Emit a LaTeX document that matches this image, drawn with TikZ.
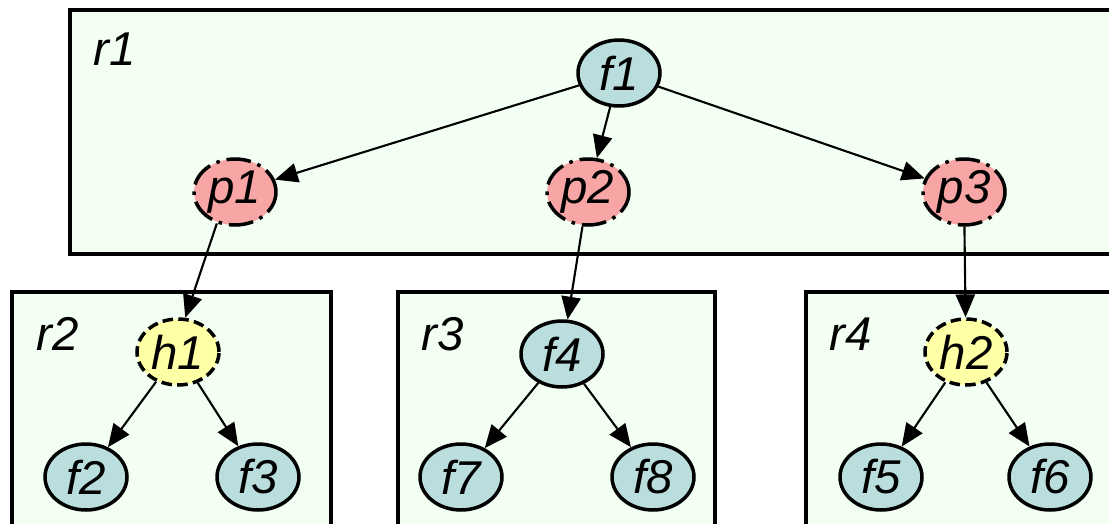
\documentclass[tikz,border=0pt]{standalone}
\usepackage{fontspec}
\setmainfont{Liberation Sans}
\usetikzlibrary{arrows.meta,shapes.geometric}

\definecolor{regionbg}{RGB}{243,255,243}
\definecolor{funcfill}{RGB}{186,222,222}
\definecolor{procfill}{RGB}{248,165,165}
\definecolor{hostfill}{RGB}{255,255,165}

\begin{document}
\begin{tikzpicture}[x=0.02cm,y=-0.02cm,>={Triangle[length=13pt,width=11pt]},
 font=\fontsize{27}{30}\selectfont\itshape,
 region/.style={draw,line width=1.8pt,fill=regionbg},
 fn/.style={ellipse,draw,line width=2pt,fill=funcfill,minimum width=1.64cm,minimum height=1.32cm,inner sep=0pt},
 proc/.style={fn,fill=procfill,dash pattern=on 14pt off 4pt on 2pt off 4pt},
 host/.style={fn,fill=hostfill,dash pattern=on 6pt off 3pt},
 link/.style={->,line width=1.2pt}]
\clip (0,0) rectangle (1109,524);
\fill[white] (0,0) rectangle (1109,524);
% regions
\draw[region] (70,10) rectangle (1130,254);
\draw[region] (12,292) rectangle (331,560);
\draw[region] (398,292) rectangle (715,560);
\draw[region] (806,292) rectangle (1130,560);
\node[anchor=base west] (r1) at (87,65) {r1};
\node[anchor=base west] (r2) at (30,350) {r2};
\node[anchor=base west] (r3) at (415,350) {r3};
\node[anchor=base west] (r4) at (823,350) {r4};
% top level
\node[fn] (f1) at (619,73) {f1};
\node[proc] (p1) at (235,192) {p1};
\node[proc] (p2) at (588,192) {p2};
\node[proc] (p3) at (964,192) {p3};
% lower regions
\node[host] (h1) at (178,352) {h1};
\node[fn] (f2) at (86,477) {f2};
\node[fn] (f3) at (258,477) {f3};
\node[fn] (f4) at (562,354) {f4};
\node[fn] (f7) at (461,477) {f7};
\node[fn] (f8) at (653,477) {f8};
\node[host] (h2) at (966,352) {h2};
\node[fn] (f5) at (881,477) {f5};
\node[fn] (f6) at (1050,477) {f6};
% edges
\draw[link] (f1) -- (p1);
\draw[link] (f1) -- (p2);
\draw[link] (f1) -- (p3);
\draw[link] (p1.240) -- (h1.78);
\draw[link] (p2) -- (f4);
\draw[link] (p3) -- (h2);
\draw[link] (h1) -- (f2);
\draw[link] (h1) -- (f3);
\draw[link] (f4) -- (f7);
\draw[link] (f4) -- (f8);
\draw[link] (h2) -- (f5);
\draw[link] (h2) -- (f6);
\end{tikzpicture}
\end{document}
